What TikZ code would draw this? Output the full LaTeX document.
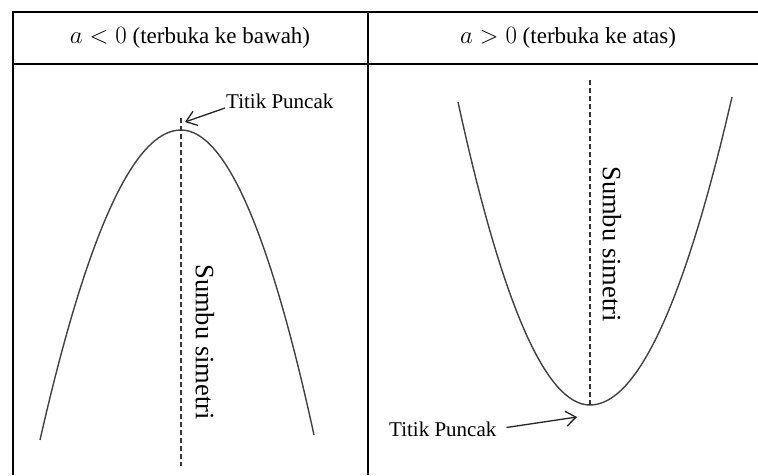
\documentclass[tikz,border=0pt]{standalone}
\usepackage{fontspec}
\setmainfont{Liberation Serif}
\usetikzlibrary{arrows.meta,positioning}

\begin{document}
\begin{tikzpicture}[x=1pt,y=-1pt,
  grid/.style={line width=1.8pt,black},
  curve/.style={line width=1.4pt,black!75},
  axis/.style={line width=1.1pt,black!80,dash pattern=on 5pt off 3pt},
  arr/.style={line width=1.3pt,black!85,-{Straight Barb[length=10pt,width=15pt]}},
  every node/.style={font=\fontsize{21}{25}\selectfont,inner sep=1pt}]
\useasboundingbox (0,0) rectangle (758,475);
% table
\draw[grid] (13,475)--(13,12)--(758,12);
\draw[grid] (13,64)--(758,64);
\draw[grid] (368,12)--(368,475);
\node[font=\fontsize{23}{27}\selectfont] (headL) at (190,38) {$a<0$ (terbuka ke bawah)};
\node[font=\fontsize{23}{27}\selectfont] (headR) at (568,38) {$a>0$ (terbuka ke atas)};
% a < 0
\coordinate (topL) at (181,130);
\draw[curve] (40,440) .. controls (87,233.3) and (134,130) .. (topL)
  .. controls (225.3,130) and (269.7,231.7) .. (314,435);
\draw[axis] (181,118)--(181,466);
\node[rotate=-90,font=\fontsize{26.5}{30}\selectfont] (axL) at (205,342) {Sumbu simetri};
\node[anchor=base west] (ttlL) at (225,108) {Titik Puncak};
\coordinate (tipL) at (185,122);
\draw[arr] (ttlL.base west) -- (tipL);
% a > 0
\coordinate (botR) at (590,405);
\draw[curve] (458,102) .. controls (502,304) and (546,405) .. (botR)
  .. controls (637.3,405) and (684.7,302.3) .. (732,97);
\draw[axis] (590,80)--(botR);
\node[rotate=-90,font=\fontsize{26.5}{30}\selectfont] (axR) at (612,244) {Sumbu simetri};
\node[anchor=base west] (ttlR) at (388,436) {Titik Puncak};
\coordinate (tipR) at (577,417);
\draw[arr,shorten <=9pt] (ttlR.east) -- (tipR);
\end{tikzpicture}
\end{document}
